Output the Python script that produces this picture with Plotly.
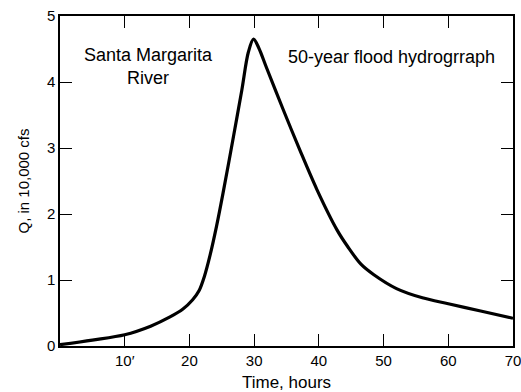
import plotly.graph_objects as go

time_hours = [0, 5, 10, 14, 17, 19, 20.5, 21.5, 22.3, 23.2, 24.2, 25.2, 26.8, 28.1, 29.1, 29.9, 30.7, 31.9, 34.5, 37.1, 39.7, 42.8, 44.5, 46.5, 48.5, 52, 56, 60, 65, 70]
q_10000cfs = [0.02, 0.09, 0.17, 0.30, 0.44, 0.56, 0.70, 0.84, 1.05, 1.38, 1.82, 2.32, 3.17, 3.88, 4.45, 4.65, 4.52, 4.22, 3.58, 2.96, 2.37, 1.76, 1.50, 1.24, 1.08, 0.87, 0.73, 0.64, 0.53, 0.42]

x_tickvals = [10, 20, 30, 40, 50, 60, 70]
x_ticktext = ["10′", "20", "30", "40", "50", "60", "70"]
y_tickvals = [0, 1, 2, 3, 4, 5]

font_family = "Liberation Sans, Arial, sans-serif"

fig = go.Figure()
fig.add_trace(go.Scatter(
    x=time_hours, y=q_10000cfs, mode="lines",
    line=dict(color="black", width=3.2, shape="spline", smoothing=0.9),
    hoverinfo="skip", showlegend=False,
))

axis_common = dict(
    showgrid=False, zeroline=False, showline=True, linecolor="black", linewidth=1.5,
    ticks="inside", ticklen=12, tickwidth=1.3, tickcolor="black", mirror="allticks",
    tickfont=dict(family=font_family, size=15, color="black"), automargin=False,
    ticklabeloverflow="allow",
)

fig.update_layout(
    width=521, height=392,
    margin=dict(l=60, r=8, t=16, b=46),
    paper_bgcolor="white", plot_bgcolor="white",
    font=dict(family=font_family, color="black"),
    xaxis=dict(range=[0, 70], tickvals=x_tickvals, ticktext=x_ticktext,
               title=dict(text="Time, hours", font=dict(size=17), standoff=12), **axis_common),
    yaxis=dict(range=[0, 5], tickvals=y_tickvals,
               title=dict(text="Q, in 10,000 cfs", font=dict(size=15), standoff=14), **axis_common),
    annotations=[
        dict(x=13.7, y=4.23, xref="x", yref="y", text="Santa Margarita<br>River", showarrow=False,
             font=dict(size=18, family=font_family), align="center"),
        dict(x=51.2, y=4.38, xref="x", yref="y", text="50-year flood hydrogrraph", showarrow=False,
             font=dict(size=18, family=font_family)),
    ],
)

fig.write_html("out.html")
